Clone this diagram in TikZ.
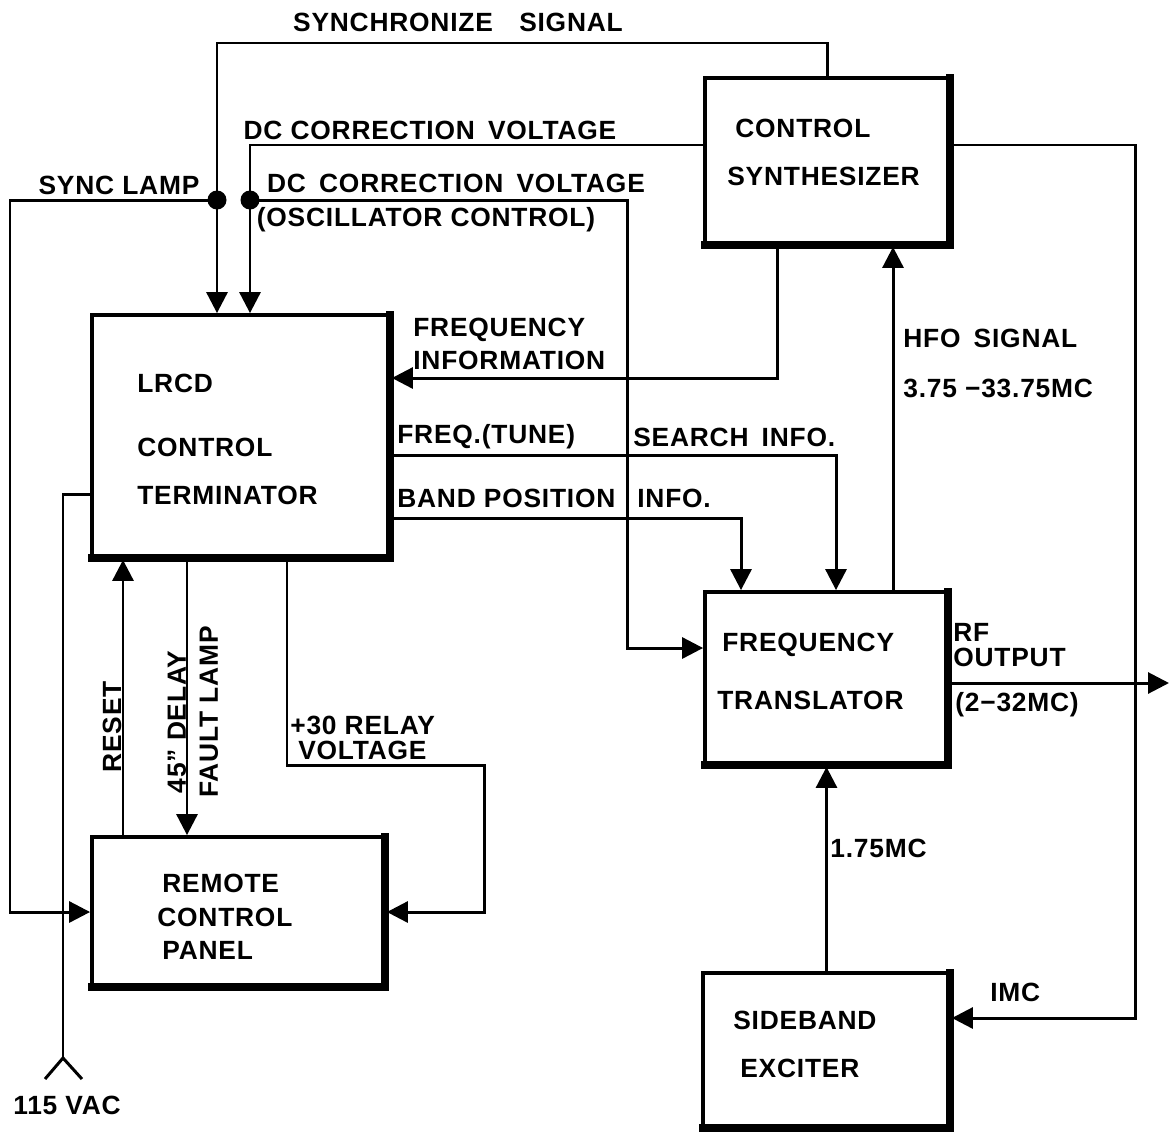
\documentclass[tikz,border=0pt]{standalone}
\usepackage{fontspec}
\setmainfont[LetterSpace=3]{Liberation Sans}
\usetikzlibrary{arrows.meta,calc}
\begin{document}
\begin{tikzpicture}[x=0.02cm,y=-0.02cm,
  blk/.style={draw, line width=2.2pt, inner sep=0pt},
  heavy/.style={line width=5pt, line cap=rect},
  wire/.style={line width=1.7pt},
  arr/.style={wire, -{Triangle[length=0.42cm,width=0.42cm]}},
  lbl/.style={font=\fontsize{15}{17}\selectfont\bfseries, inner sep=0pt, anchor=west},
  clbl/.style={font=\fontsize{15}{17}\selectfont\bfseries, inner sep=0pt},
  dot/.style={circle, fill, inner sep=0pt, minimum size=0.38cm}]
\useasboundingbox (0,0) rectangle (1169,1133);

% boxes
\node[blk, minimum width=4.9cm, minimum height=3.34cm] (cs) at (827.5,161.5) {};
\node[blk, minimum width=5.96cm, minimum height=4.86cm] (lrcd) at (241,436.5) {};
\node[blk, minimum width=4.86cm, minimum height=3.46cm] (ft) at (826.5,678.5) {};
\node[blk, minimum width=5.86cm, minimum height=3.0cm] (rcp) at (238.5,912) {};
\node[blk, minimum width=4.94cm, minimum height=3.1cm] (se) at (826.5,1050.5) {};
\foreach \b in {cs,lrcd,ft,rcp,se}{
  \draw[heavy] ($(\b.north east)+(-2,2)$) -- ($(\b.south east)+(-2,-2)$) -- ($(\b.south west)+(2,-2)$);
}

% box texts
\node[lbl] (t1) at (735,128) {CONTROL};
\node[lbl] (t2) at (727,176) {SYNTHESIZER};
\node[lbl] (t3) at (137,383) {LRCD};
\node[lbl] (t4) at (137,447) {CONTROL};
\node[lbl] (t5) at (137,495) {TERMINATOR};
\node[lbl] (t6) at (722,645) {FREQUENCY};
\node[lbl] (t7) at (717,700) {TRANSLATOR};
\node[lbl] (t8) at (162,883) {REMOTE};
\node[lbl] (t9) at (157,917) {CONTROL};
\node[lbl] (t10) at (162,950) {PANEL};
\node[lbl] (t11) at (733,1020) {SIDEBAND};
\node[lbl] (t12) at (740,1068) {EXCITER};

% coordinates
\coordinate (ss) at (217,43);
\coordinate (j1) at (217,200);
\coordinate (j2) at (250,200);
\coordinate (c1) at (250,145);
\coordinate (sl) at (10,200);
\coordinate (c2) at (627,648);
\coordinate (fi) at (777,378);
\coordinate (ftn) at (836,455);
\coordinate (bp) at (741,518);
\coordinate (hf) at (893,400);
\coordinate (rr) at (1135,145);
\coordinate (rb) at (1135,1018);
\coordinate (rfo) at (1169,683);
\coordinate (rs) at (123,0);
\coordinate (fl) at (187,0);
\coordinate (rv) at (287,0);
\coordinate (rv2) at (484,765);
\coordinate (ac) at (63,494);
\coordinate (acb) at (63,1058);
\coordinate (acl) at (45,1079);
\coordinate (acr) at (82,1079);

% connectors
\draw[arr] (cs.north) |- (ss) -- (ss |- lrcd.north);
\draw[arr] (cs.west |- c1) -- (c1) -- (c1 |- lrcd.north);
\draw[arr] (j1) -- (sl) |- (rcp.west);
\draw[arr] (j2) -| (c2) -- (c2 -| ft.west);
\node[dot] (d1) at (j1) {};
\node[dot] (d2) at (j2) {};
\draw[arr] (cs.south -| fi) -- (fi) -- (fi -| lrcd.east);
\draw[arr] (lrcd.east |- ftn) -| (ftn |- ft.north);
\draw[arr] (lrcd.east |- bp) -| (bp |- ft.north);
\draw[arr] (ft.north -| hf) -- (cs.south -| hf);
\draw[arr] (cs.east |- rr) -- (rr) -- (rb) -- (rb -| se.east);
\draw[arr] (ft.east |- rfo) -- (rfo);
\draw[arr] (se.north) -- (ft.south);
\draw[arr] (rcp.north -| rs) -- (lrcd.south -| rs);
\draw[arr] (lrcd.south -| fl) -- (rcp.north -| fl);
\draw[arr] (lrcd.south -| rv) |- (rv2) |- (rcp.east);
\draw[wire] (lrcd.west |- ac) -- (ac) -- (acb);
\draw[wire] (acl) -- (acb) -- (acr);

% connector labels
\node[clbl] (l1) at (458,22) {SYNCHRONIZE\quad SIGNAL};
\node[clbl] (l2) at (430,130) {DC CORRECTION\enspace VOLTAGE};
\node[clbl] (l3) at (119,185) {SYNC LAMP};
\node[clbl] (l4) at (456,183) {DC\enspace CORRECTION\enspace VOLTAGE};
\node[clbl] (l5) at (426,220) {(OSCILLATOR CONTROL)};
\node[lbl] (l6) at (413,330) {FREQUENCY};
\node[lbl] (l7) at (413,360) {INFORMATION};
\node[lbl] (l8) at (397,437) {FREQ.(TUNE)};
\node[lbl] (l9) at (633,437) {SEARCH\enspace INFO.};
\node[lbl] (l10) at (397,498) {BAND POSITION};
\node[lbl] (l11) at (637,498) {INFO.};
\node[lbl] (l12) at (903,338) {HFO\enspace SIGNAL};
\node[lbl] (l13) at (903,388) {3.75 −33.75MC};
\node[lbl] (l14) at (953,632) {RF};
\node[lbl] (l15) at (953,657) {OUTPUT};
\node[lbl] (l16) at (955,705) {(2−32MC)};
\node[lbl] (l17) at (830,848) {1.75MC};
\node[lbl] (l18) at (990,992) {IMC};
\node[lbl] (l19) at (290,725) {+30 RELAY};
\node[lbl] (l20) at (298,750) {VOLTAGE};
\node[clbl, rotate=90] (l21) at (112,727) {RESET};
\node[clbl, rotate=90] (l22) at (177,722) {45" DELAY};
\node[clbl, rotate=90] (l23) at (209,712) {FAULT LAMP};
\node[clbl] (l24) at (67,1105) {115 VAC};
\end{tikzpicture}
\end{document}
